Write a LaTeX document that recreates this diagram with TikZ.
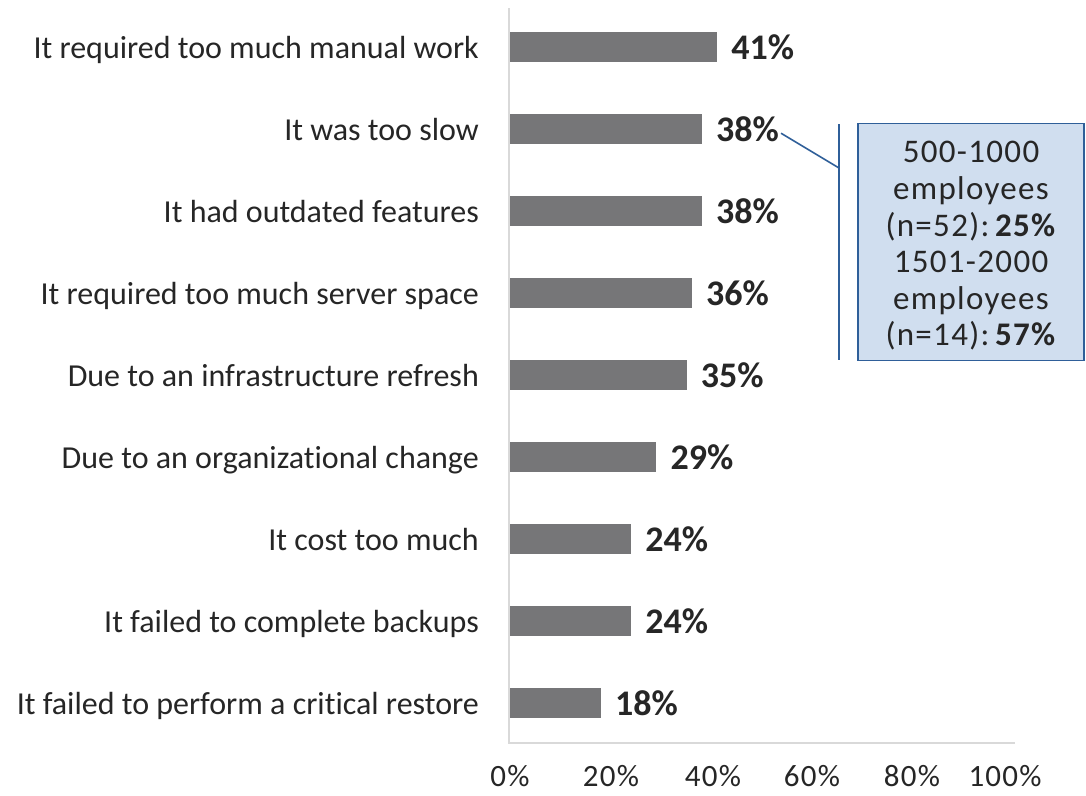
\documentclass[tikz,border=0pt]{standalone}
\usepackage{fontspec}
\setmainfont{Carlito}[Ligatures=NoCommon]
\newfontfamily\spaced[LetterSpace=4,Ligatures=NoCommon]{Carlito}
\definecolor{bargray}{RGB}{118,118,120}
\definecolor{txt}{RGB}{38,38,38}
\definecolor{axisgray}{RGB}{217,217,217}
\definecolor{boxfill}{RGB}{208,222,239}
\definecolor{boxline}{RGB}{47,95,153}
\begin{document}
\begin{tikzpicture}[x=1pt,y=-1pt,
  cat/.style={font=\fontsize{32}{36}\selectfont, text=txt, inner sep=0pt},
  val/.style={font=\fontsize{36}{40}\selectfont\bfseries, text=txt, inner sep=0pt},
  tick/.style={font=\spaced\fontsize{31}{36}\selectfont, text=txt, inner sep=0pt, anchor=base},
  bar/.style={fill=bargray, draw=none, minimum height=30pt, inner sep=0pt, anchor=west},
  axisline/.style={draw=axisgray, line width=1.3pt},
  callline/.style={draw=boxline, line width=1.6pt},
  callbox/.style={fill=boxfill, draw=boxline, line width=1.8pt, minimum width=226pt, minimum height=237pt, inner sep=0pt},
  calltext/.style={align=center, text=txt, font=\spaced\fontsize{33}{36.6}\selectfont, inner sep=0pt}
]
\useasboundingbox (0,0) rectangle (1086,795);
\fill[white] (0,0) rectangle (1086,795);
% axes
\coordinate (atop) at (509,8);
\coordinate (orig) at (509,743);
\coordinate (aend) at (1015,743);
\draw[axisline] (atop) -- (orig) -- (aend);
% bars
\foreach \i/\v/\t in {1/41/It required too much manual work,
                      2/38/It was too slow,
                      3/38/It had outdated features,
                      4/36/It required too much server space,
                      5/35/Due to an infrastructure refresh,
                      6/29/Due to an organizational change,
                      7/24/It cost too much,
                      8/24/It failed to complete backups,
                      9/18/It failed to perform a critical restore}{
  \pgfmathsetmacro\yy{47+82*(\i-1)}
  \pgfmathsetmacro\ww{5.05*\v}
  \node[cat, anchor=base east] (c\i) at (479,\yy+11) {\t};
  \node[bar, minimum width=\ww pt] (b\i) at (509.6,\yy) {};
  \node[val, anchor=base west] (v\i) at (509+\ww+15,\yy+12.5) {\v\%};
}
% tick labels
\foreach \p/\x in {0/510,20/611,40/713,60/812,80/912,100/1005}{
  \node[tick] (t\p) at (\x,786) {\p\%};
}
% callout
\coordinate (k1) at (839,168);
\coordinate (kt) at (839,124);
\coordinate (kb) at (839,360);
\draw[callline] ([xshift=2pt,yshift=-4pt]v2.east) -- (k1);
\draw[callline] (kt) -- (kb);
\node[callbox] (box) at (971,242) {};
\node[calltext] (boxtext) at (971,246) {500-1000\\employees\\(n=52):\,\textbf{25\%}\\1501-2000\\employees\\(n=14):\,\textbf{57\%}};
\end{tikzpicture}
\end{document}
